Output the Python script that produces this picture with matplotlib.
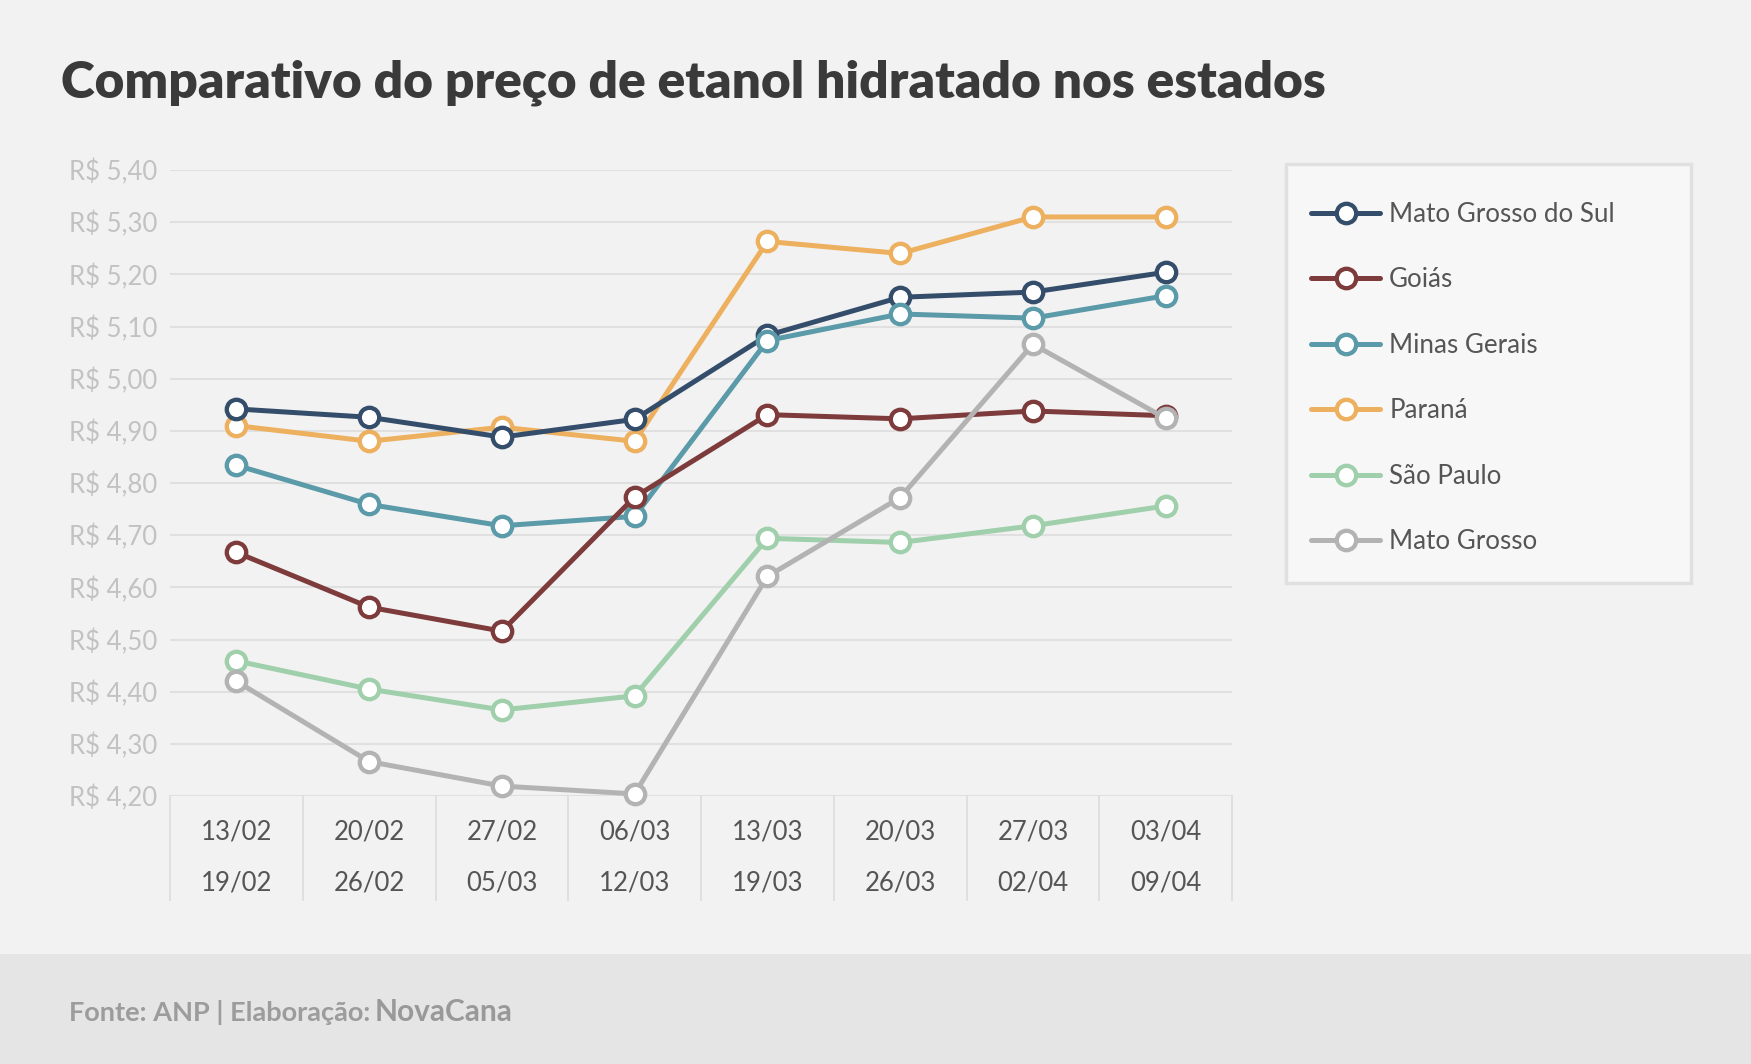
import matplotlib.pyplot as plt
from matplotlib.patches import Rectangle
from matplotlib.lines import Line2D
from matplotlib.transforms import blended_transform_factory

plt.rcParams['font.family'] = ['Lato', 'DejaVu Sans']

# dados
semanas_ini = ['13/02', '20/02', '27/02', '06/03', '13/03', '20/03', '27/03', '03/04']
semanas_fim = ['19/02', '26/02', '05/03', '12/03', '19/03', '26/03', '02/04', '09/04']

mato_grosso_sul = [4.942, 4.926, 4.888, 4.922, 5.083, 5.156, 5.166, 5.204]
goias = [4.667, 4.562, 4.516, 4.773, 4.931, 4.923, 4.938, 4.929]
minas_gerais = [4.834, 4.759, 4.718, 4.736, 5.073, 5.124, 5.116, 5.159]
parana = [4.910, 4.880, 4.907, 4.880, 5.263, 5.240, 5.310, 5.310]
sao_paulo = [4.459, 4.405, 4.365, 4.392, 4.694, 4.686, 4.718, 4.756]
mato_grosso = [4.420, 4.266, 4.219, 4.204, 4.621, 4.772, 5.066, 4.924]

series = [
    ('Mato Grosso do Sul', mato_grosso_sul, '#344d6a', 3),
    ('Goiás', goias, '#7d3b3b', 5),
    ('Minas Gerais', minas_gerais, '#5b9aa8', 4),
    ('Paraná', parana, '#edb05f', 2),
    ('São Paulo', sao_paulo, '#9fcfab', 6),
    ('Mato Grosso', mato_grosso, '#b3b3b3', 7),
]
yticks = [4.20, 4.30, 4.40, 4.50, 4.60, 4.70, 4.80, 4.90, 5.00, 5.10, 5.20, 5.30, 5.40]

W, H = 1751, 1064
fig = plt.figure(figsize=(W / 100, H / 100), dpi=100, facecolor='#f2f2f2')

# rodapé
fig.patches.append(Rectangle((0, 0), 1, 110 / H, transform=fig.transFigure,
                             facecolor='#e5e5e5', edgecolor='none', zorder=0))
fig.text(69 / W, (H - 1021) / H, 'Fonte: ANP | Elaboração:', fontsize=19.5,
         fontweight='bold', color='#9c9c9c', va='baseline', ha='left')
fig.text(375 / W, (H - 1021) / H, 'NovaCana', fontsize=21.5,
         fontweight='bold', color='#999999', va='baseline', ha='left')

# título
fig.text(61 / W, (H - 98) / H, 'Comparativo do preço de etanol hidratado nos estados',
         fontsize=37, fontweight='heavy', color='#3a3a3a', va='baseline', ha='left')

ax = fig.add_axes([170 / W, 1 - 796 / H, 1062 / W, 626 / H])
ax.set_facecolor('none')
x = list(range(len(semanas_ini)))

for nome, vals, cor, z in series:
    ax.plot(x, vals, color=cor, lw=3.6, marker='o', ms=14, mew=3.1,
            mfc='white', mec=cor, label=nome, zorder=z, clip_on=False,
            solid_capstyle='round')

ax.set_xlim(-0.5, len(x) - 0.5)
ax.set_ylim(4.20, 5.40)
ax.set_yticks(yticks)
ax.set_yticklabels(['R$ ' + f'{v:.2f}'.replace('.', ',') for v in yticks],
                   fontsize=18.5, color='#c2c2c2')
ax.tick_params(axis='y', length=0, pad=9)
ax.set_xticks([])
ax.grid(axis='y', color='#e0e0e0', lw=1.5, zorder=0)
for s in ax.spines.values():
    s.set_visible(False)

# rótulos do eixo x em duas linhas e divisórias
tr = blended_transform_factory(ax.transData, fig.transFigure)
for i in x:
    ax.text(i, (H - 832) / H, semanas_ini[i], transform=tr, ha='center',
            va='center', fontsize=18.5, color='#555555')
    ax.text(i, (H - 883) / H, semanas_fim[i], transform=tr, ha='center',
            va='center', fontsize=18.5, color='#555555')
for i in range(len(x) + 1):
    ax.add_line(Line2D([i - 0.5, i - 0.5], [(H - 796) / H, (H - 900) / H],
                       transform=tr, color='#dedede', lw=1.3, clip_on=False))

# legenda
fig.patches.append(Rectangle((1286 / W, 1 - 583 / H), 405 / W, 419 / H,
                             transform=fig.transFigure, facecolor='#f7f7f7',
                             edgecolor='#e0e0e0', lw=2.5, zorder=1))
leg = fig.legend(loc='upper left', bbox_to_anchor=(1311 / W, 1 - 202 / H),
                 frameon=False, fontsize=18.75, labelspacing=1.555, handlelength=2.65,
                 handletextpad=0.35, borderpad=0, borderaxespad=0)
for t in leg.get_texts():
    t.set_color('#555555')

fig.savefig('out.png', dpi=100, facecolor=fig.get_facecolor())
